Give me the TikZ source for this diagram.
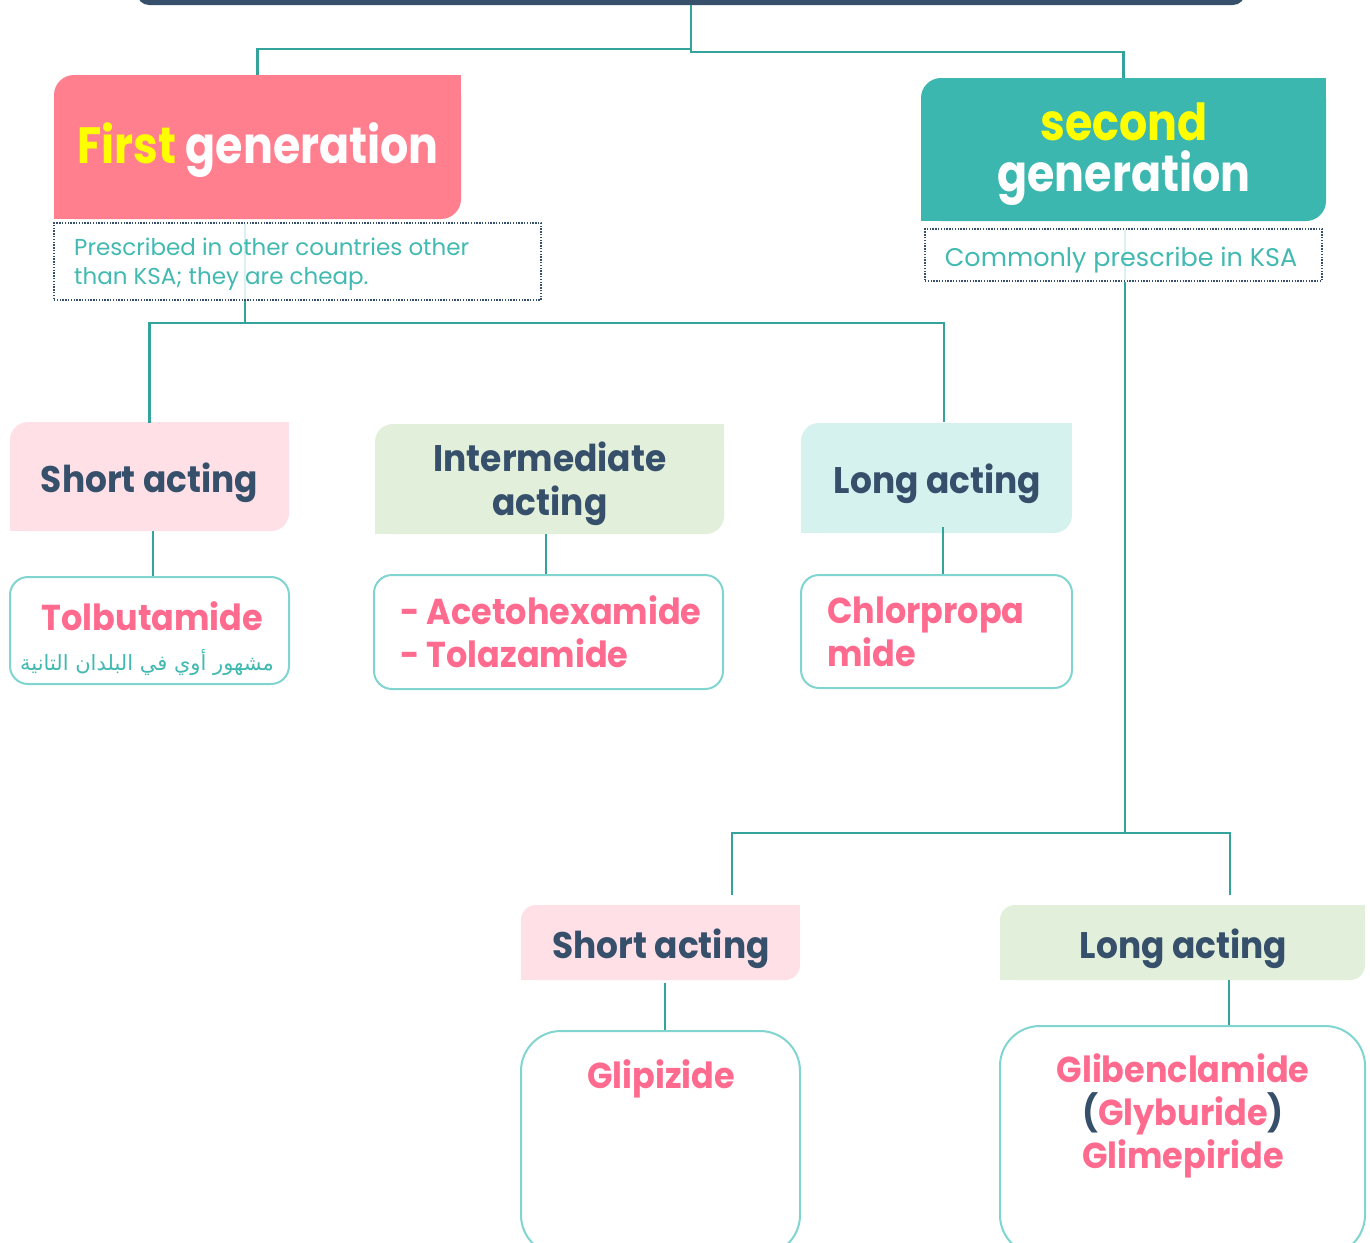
\documentclass[tikz,border=0pt]{standalone}
\usepackage{fontspec}
\setmainfont{Poppins}
\newfontfamily\arabicfont[Script=Arabic]{DejaVu Sans}
\TeXXeTstate=1
\definecolor{navy}{HTML}{36506B}
\definecolor{hdrpink}{HTML}{FF7F8F}
\definecolor{hdrteal}{HTML}{3CB7B0}
\definecolor{lpink}{HTML}{FFE0E7}
\definecolor{lgreen}{HTML}{E2EFDA}
\definecolor{lcyan}{HTML}{D6F2EF}
\definecolor{bord}{HTML}{80D5D0}
\definecolor{drug}{HTML}{FF6B8F}
\definecolor{yel}{HTML}{FFFF00}
\definecolor{notetxt}{HTML}{42BAB2}
\definecolor{linec}{HTML}{33A39C}
\definecolor{palec}{HTML}{DAF1F0}
\newcommand\sharpcorners[3]{%
  \fill[#2] (#1.north east) rectangle ([xshift=-#3pt,yshift=-#3pt]#1.north east);
  \fill[#2] (#1.south west) rectangle ([xshift=#3pt,yshift=#3pt]#1.south west);}
\begin{document}
\begin{tikzpicture}[x=1pt,y=-1pt,
  hdr/.style={rectangle,inner sep=0pt,rounded corners=18pt},
  drugbox/.style={rectangle,inner sep=0pt,rounded corners=18pt,draw=bord,line width=2pt,fill=white},
  note/.style={rectangle,inner sep=0pt,draw=navy,line width=1.4pt,dash pattern=on 1.4pt off 1.4pt},
  conn/.style={draw=linec,line width=2.4pt},
  pale/.style={draw=palec,line width=2pt},
  hlab/.style={inner sep=0pt,text=navy,font=\bfseries\fontsize{37}{44}\selectfont\addfontfeature{FakeStretch=0.93},align=center},
  dlab/.style={inner sep=0pt,text=drug,font=\bfseries\fontsize{36}{43}\selectfont\addfontfeature{FakeStretch=0.93}},
  nlab/.style={inner sep=0pt,text=notetxt,font=\fontsize{23}{29}\selectfont,align=left},
  glab/.style={inner sep=0pt,text=white,font=\bfseries\fontsize{51}{51}\selectfont\addfontfeature{FakeStretch=0.87},align=center}]
\useasboundingbox (0,0) rectangle (1370,1242);
\clip (0,0) rectangle (1370,1242);
\fill[white] (0,0) rectangle (1370,1242);

% title bar (cut off)
\node[hdr,fill=navy,rounded corners=12pt,minimum width=1108pt,minimum height=45pt] (title) at (691,-17.5) {};

% generation headers
\node[hdr,fill=hdrpink,rounded corners=20pt,minimum width=407pt,minimum height=144pt] (fg) at (257.5,147) {};
\sharpcorners{fg}{hdrpink}{22}
\node[hdr,fill=hdrteal,rounded corners=20pt,minimum width=405pt,minimum height=143pt] (sg) at (1123.5,149.5) {};
\sharpcorners{sg}{hdrteal}{22}
\node[glab] (fgl) at (258,150) {{\color{yel}First} generation};
\node[glab] (sgl) at (1124,154) {{\color{yel}second}\\generation};

% notes
\node[note,minimum width=487pt,minimum height=77pt] (n1) at (297.5,261.5) {};
\node[note,minimum width=397pt,minimum height=52pt] (n2) at (1123.5,255) {};

% pale lines through notes
\coordinate (b1) at (245,323);
\coordinate (b2) at (1125,833);
\draw[pale] ([yshift=-1.5pt]b1 |- n1.north) -- ([yshift=1.5pt]b1 |- n1.south);
\draw[pale] ([yshift=-1.5pt]b2 |- n2.north) -- ([yshift=1.5pt]b2 |- n2.south);

\node[nlab,anchor=west] (n1l) at (74,264) {Prescribed in other countries other\\than KSA; they are cheap.};
\node[nlab,anchor=base,font=\fontsize{25.5}{30}\selectfont] (n2l) at (1121,266) {Commonly prescribe in KSA};

% first generation classes
\node[hdr,fill=lpink,minimum width=279pt,minimum height=109pt] (sa1) at (149.5,476.5) {};
\sharpcorners{sa1}{lpink}{20}
\node[hdr,fill=lgreen,minimum width=349pt,minimum height=110pt] (im) at (549.5,479) {};
\sharpcorners{im}{lgreen}{20}
\node[hdr,fill=lcyan,minimum width=271pt,minimum height=110pt] (la1) at (936.5,478) {};
\sharpcorners{la1}{lcyan}{20}
\node[hlab,anchor=base] (sa1l) at (149.5,492) {Short acting};
\node[hlab] (iml) at (550,484) {Intermediate\\acting};
\node[hlab,anchor=base] (la1l) at (937.5,493) {Long acting};

% drug boxes (first generation)
\node[drugbox,minimum width=279pt,minimum height=107pt] (tb) at (149.5,630.5) {};
\node[drugbox,minimum width=349pt,minimum height=114pt] (ac) at (548.5,632) {};
\node[drugbox,minimum width=271pt,minimum height=113pt] (ch) at (936.5,631.5) {};
\node[dlab,anchor=base] (tbl) at (152.5,630) {Tolbutamide};
\node[inner sep=0pt,anchor=base,text=notetxt,font=\fontsize{21}{26}\selectfont] (arl) at (147,670) {\arabicfont\beginR مشهور أوي في البلدان التانية\endR};
\node[dlab,anchor=west,align=left] (acl) at (400,632) {- Acetohexamide\\- Tolazamide};
\node[dlab,anchor=west,align=left] (chl) at (827,631.5) {Chlorpropa\\mide};

% second generation classes
\node[hdr,fill=lpink,rounded corners=15pt,minimum width=279pt,minimum height=75pt] (sa2) at (660.5,942.5) {};
\sharpcorners{sa2}{lpink}{17}
\node[hdr,fill=lgreen,rounded corners=15pt,minimum width=365pt,minimum height=75pt] (la2) at (1182.5,942.5) {};
\sharpcorners{la2}{lgreen}{17}
\node[hlab,anchor=base] (sa2l) at (661,958) {Short acting};
\node[hlab,anchor=base] (la2l) at (1183.5,958) {Long acting};

\node[drugbox,rounded corners=40pt,minimum width=279pt,minimum height=224pt] (gp) at (660.5,1143) {};
\node[drugbox,rounded corners=40pt,minimum width=365pt,minimum height=229pt] (gb) at (1182.5,1140.5) {};
\node[dlab,anchor=base] (gpl) at (661,1088) {Glipizide};
\node[dlab,align=center] (gbl) at (1183,1116) {Glibenclamide\\{\color{navy}(}Glyburide{\color{navy})}\\Glimepiride};

% connectors
\draw[conn] (title.south) -- ++(0,44) -| (fg.north);
\draw[conn] (title.south) -- ++(0,47) -| (sg.north);
\draw[conn] (b1 |- n1.south) -- (b1);
\draw[conn] ([yshift=-1pt]sa1.north) |- (b1) -| ([xshift=7.5pt,yshift=1pt]la1.north);
\draw[conn] ([xshift=3.5pt]sa1.south) -- ([xshift=3.5pt]tb.north);
\draw[conn] ([xshift=-3.5pt]im.south) -- ([xshift=-2.5pt]ac.north);
\draw[conn] ([xshift=6.5pt,yshift=6pt]la1.south) -- ([xshift=6.5pt]ch.north);
\draw[conn] (b2 |- n2.south) -- (b2);
\draw[conn] ([xshift=71.5pt,yshift=10pt]sa2.north) |- (b2) -| ([xshift=47.5pt,yshift=10pt]la2.north);
\draw[conn] ([xshift=4.5pt,yshift=-3pt]sa2.south) -- ([xshift=4.5pt]gp.north);
\draw[conn] ([xshift=46.5pt]la2.south) -- ([xshift=46.5pt]gb.north);
\end{tikzpicture}
\end{document}
